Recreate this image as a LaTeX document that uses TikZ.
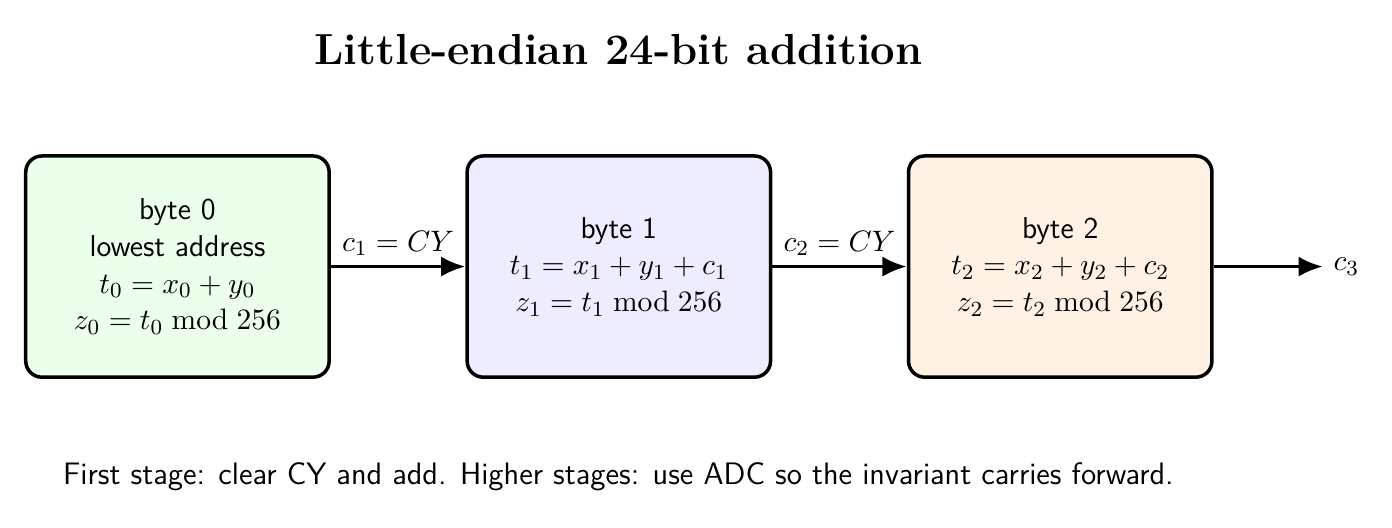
\documentclass[tikz,border=0pt]{standalone}
\usetikzlibrary{positioning,arrows.meta}
\begin{document}
\begin{tikzpicture}[
  font=\fontsize{11.2}{13.6}\selectfont,
  bytebox/.style={draw, line width=1.3pt, rounded corners=6pt, align=center, minimum width=3.95cm, minimum height=2.88cm, font=\fontsize{11.2}{13.6}\selectfont\sffamily},
  carry/.style={-{Latex[length=9pt,width=7.5pt]}, line width=1.4pt}
]
\useasboundingbox (-2.31,-3.39) rectangle (15.81,3.47);
\node[bytebox, fill=green!8] (byte0) at (0,0) {byte 0\\lowest address\\$t_0 = x_0 + y_0$\\$z_0 = t_0 \bmod 256$};
\node[bytebox, fill=blue!7, right=1.75cm of byte0] (byte1) {byte 1\\$t_1 = x_1 + y_1 + c_1$\\$z_1 = t_1 \bmod 256$};
\node[bytebox, fill=orange!10, right=1.75cm of byte1] (byte2) {byte 2\\$t_2 = x_2 + y_2 + c_2$\\$z_2 = t_2 \bmod 256$};
\coordinate[right=1.42cm of byte2] (carryout);
\draw[carry] (byte0) -- node[above] {$c_1 = CY$} (byte1);
\draw[carry] (byte1) -- node[above] {$c_2 = CY$} (byte2);
\draw[carry] (byte2) -- (carryout) node[right] (c3) {$c_3$};
\node[font=\fontsize{16.1}{19}\selectfont\bfseries] (title) at (5.74,2.82) {Little-endian 24-bit addition};
\node[font=\fontsize{11.5}{13.8}\selectfont\sffamily] (note) at (5.74,-2.74) {First stage: clear CY and add. Higher stages: use ADC so the invariant carries forward.};
\end{tikzpicture}
\end{document}
